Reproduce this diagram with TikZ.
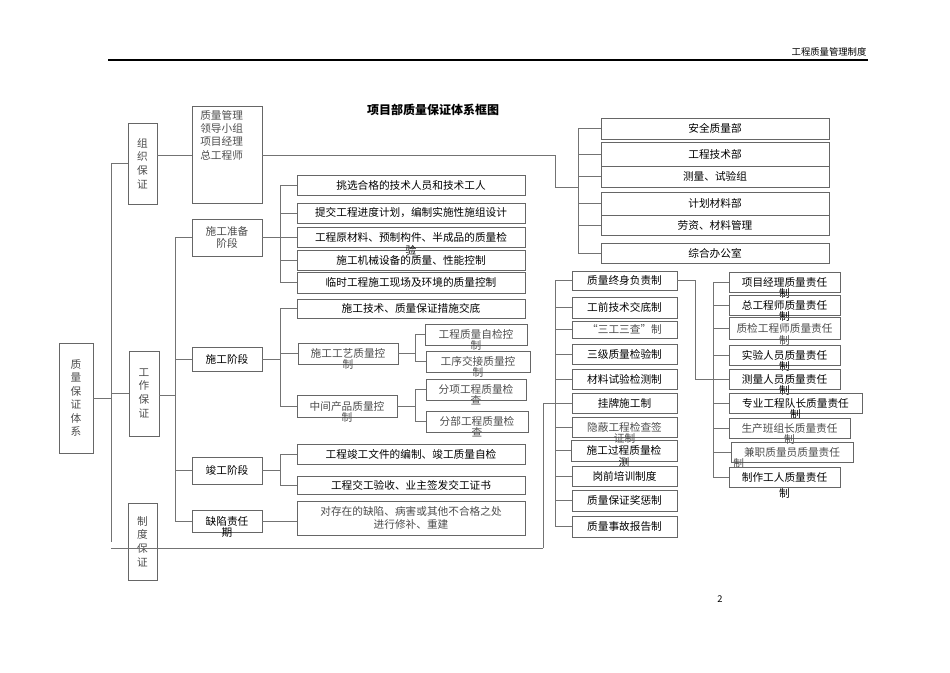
\documentclass[tikz,border=0pt]{standalone}
\usepackage{fontspec}
\setmainfont{Noto Sans CJK SC}
\begin{document}
\begin{tikzpicture}[x=0.75pt,y=-0.75pt,
  box/.style={draw=black!60,line width=0.5pt,inner sep=0pt,font=\fontsize{8}{9.5}\selectfont,align=center},
  lite/.style={text=black!70},
  ln/.style={draw=black!55,line width=0.5pt}]
\useasboundingbox (0,0) rectangle (950,672);
\newcommand\mybox[7][]{\node[box,#1,minimum width={0.75pt*(#5-#3)},minimum height={0.75pt*(#6-#4)}] (#2) at ({(#3+#5)/2},{(#4+#6)/2}) {#7};}
\newcommand\vt[1]{\shortstack{#1}}
% header
\draw[line width=0.8pt] (108,60) -- (868,60);
\node[anchor=south east,font=\fontsize{7}{8}\selectfont,inner sep=1pt] (hdr) at (868,58) {工程质量管理制度};
\node[font=\fontsize{7}{8}\selectfont] (pg) at (720,599) {2};
\node[font=\bfseries\fontsize{9}{10}\selectfont] (title) at (433,110) {项目部质量保证体系框图};
% level 0,1
\mybox[lite]{tixi}{59}{343}{93}{453}{\vt{质\\量\\保\\证\\体\\系}}
\mybox[lite]{zuzhi}{128}{123}{157}{204}{\vt{组\\织\\保\\证}}
\mybox[lite]{gongzuo}{129}{351}{159}{436}{\vt{工\\作\\保\\证}}
\mybox[lite]{zhidu}{128}{503}{157}{580}{\vt{制\\度\\保\\证}}
\coordinate (s1) at (111,0);
\draw[ln] (tixi.east) -- (tixi.east -| s1);
\draw[ln] (zuzhi.west -| s1) -- (zhidu.west -| s1 |- 0,548);
\draw[ln] (zuzhi.west) -- (zuzhi.west -| s1);
\draw[ln] (gongzuo.west) -- (gongzuo.west -| s1);
\coordinate (zdL) at (111,548);
\coordinate (zdR) at (543,548);
\draw[ln] (zdL) -- (zdR);
% 组织
\mybox[lite]{lingdao}{192}{106}{262}{203}{}
\node[anchor=north west,lite,font=\fontsize{8}{10}\selectfont,align=left,inner sep=0pt] (ldt) at (200,110) {质量管理\\领导小组\\项目经理\\总工程师};
\draw[ln] (zuzhi.east |- 0,155) -- (lingdao.west |- 0,155);
% stages
\mybox[lite]{zhunbei}{192}{219}{262}{256}{施工准备\\阶段}
\mybox{shigong}{192}{347}{262}{371}{施工阶段}
\mybox{jungong}{192}{457}{262}{484}{竣工阶段}
\mybox[label={[box,draw=none,anchor=center]south:期}]{quexian}{192}{510}{262}{532}{缺陷责任}
\coordinate (s2) at (175,0);
\draw[ln] (gongzuo.east |- 0,395) -- (s2 |- 0,395);
\draw[ln] (zhunbei.west -| s2) -- (quexian.west -| s2);
\foreach \n in {zhunbei,shigong,jungong,quexian} \draw[ln] (\n.west) -- (\n.west -| s2);
% 准备 children
\mybox{a1}{297}{175}{525}{195}{挑选合格的技术人员和技术工人}
\mybox{a2}{297}{203}{525}{223}{提交工程进度计划，编制实施性施组设计}
\mybox[label={[box,draw=none,anchor=center,yshift=-2pt]south:验}]{a3}{297}{227}{525}{247}{工程原材料、预制构件、半成品的质量检}
\mybox{a4}{297}{250}{525}{270}{施工机械设备的质量、性能控制}
\mybox{a5}{297}{272}{525}{293}{临时工程施工现场及环境的质量控制}
\coordinate (s3) at (280,0);
\draw[ln] (zhunbei.east) -- (zhunbei.east -| s3);
\draw[ln] (a1.west -| s3) -- (a5.west -| s3);
\foreach \n in {a1,a2,a3,a4,a5} \draw[ln] (\n.west) -- (\n.west -| s3);
% 施工 children
\mybox{b1}{297}{299}{525}{318}{施工技术、质量保证措施交底}
\mybox[lite,label={[box,draw=none,lite,anchor=center]south:制}]{b2}{298}{343}{398}{364}{施工工艺质量控}
\mybox[lite,label={[box,draw=none,lite,anchor=center]south:制}]{b3}{297}{395}{397}{417}{中间产品质量控}
\draw[ln] (shigong.east) -- (shigong.east -| s3);
\draw[ln] (b1.west -| s3) -- (b3.west -| s3);
\foreach \n in {b1,b2,b3} \draw[ln] (\n.west) -- (\n.west -| s3);
\mybox[lite,label={[box,draw=none,lite,anchor=center]south:制}]{c1}{425}{324}{527}{345}{工程质量自检控}
\mybox[lite,label={[box,draw=none,lite,anchor=center]south:制}]{c2}{426}{351}{530}{372}{工序交接质量控}
\mybox[lite,label={[box,draw=none,lite,anchor=center]south:查}]{c3}{426}{379}{526}{400}{分项工程质量检}
\mybox[lite,label={[box,draw=none,lite,anchor=center]south:查}]{c4}{426}{411}{528}{432}{分部工程质量检}
\coordinate (s4) at (415,0);
\draw[ln] (b2.east) -- (b2.east -| s4);
\draw[ln] (b3.east) -- (b3.east -| s4);
\draw[ln] (c1.west -| s4) -- (c2.west -| s4);
\draw[ln] (c3.west -| s4) -- (c4.west -| s4);
\foreach \n in {c1,c2,c3,c4} \draw[ln] (\n.west) -- (\n.west -| s4);
% 竣工
\mybox{d1}{297}{444}{525}{464}{工程竣工文件的编制、竣工质量自检}
\mybox{d2}{297}{476}{525}{494}{工程交工验收、业主签发交工证书}
\draw[ln] (jungong.east) -- (jungong.east -| s3);
\draw[ln] (d1.west -| s3) -- (d2.west -| s3);
\foreach \n in {d1,d2} \draw[ln] (\n.west) -- (\n.west -| s3);
\mybox[lite]{e1}{297}{501}{525}{535}{对存在的缺陷、病害或其他不合格之处\\进行修补、重建}
\draw[ln] (quexian.east) -- (quexian.east -| e1.west);
% departments
\mybox{f1}{601}{118}{829}{139}{安全质量部}
\mybox{f2}{601}{142}{829}{166}{工程技术部}
\mybox{f3}{601}{166}{829}{187}{测量、试验组}
\mybox{f4}{601}{192}{829}{215}{计划材料部}
\mybox{f5}{601}{215}{829}{235}{劳资、材料管理}
\mybox{f6}{601}{243}{829}{263}{综合办公室}
\coordinate (s5) at (578,0);
\coordinate (s5a) at (555,0);
\draw[ln] (lingdao.east |- 0,155) -- (s5a |- 0,155) -- (s5a |- 0,187) -- (s5 |- 0,187);
\draw[ln] (f1.west -| s5) -- (f6.west -| s5);
\foreach \n in {f1,f2,f3,f4,f5,f6} \draw[ln] (\n.west) -- (\n.west -| s5);
% rules
\mybox{g1}{572}{271}{677}{290}{质量终身负责制}
\mybox{g2}{572}{297}{677}{318}{工前技术交底制}
\mybox[lite]{g3}{572}{321}{677}{338}{“三工三查”制}
\mybox{g4}{572}{344}{677}{364}{三级质量检验制}
\mybox{g5}{572}{369}{677}{389}{材料试验检测制}
\mybox{g6}{572}{393}{677}{413}{挂牌施工制}
\mybox[lite,label={[box,draw=none,lite,anchor=center,yshift=-1pt]south:证制}]{g7}{572}{417}{677}{437}{隐蔽工程检查签}
\mybox[label={[box,draw=none,anchor=center,yshift=-1pt]south:测}]{g8}{571}{440}{677}{461}{施工过程质量检}
\mybox{g9}{572}{466}{677}{486}{岗前培训制度}
\mybox{g10}{572}{490}{677}{511}{质量保证奖惩制}
\mybox{g11}{572}{516}{677}{537}{质量事故报告制}
\coordinate (s6) at (555,0);
\draw[ln] (g1.west -| s6) -- (g11.west -| s6);
\foreach \n in {g1,g2,g3,g4,g5,g6,g7,g8,g9,g10,g11} \draw[ln] (\n.west) -- (\n.west -| s6);
\draw[ln] (zdR) -- (zdR |- g6.west) -- (g6.west -| s6);
% responsibilities
\mybox[label={[box,draw=none,anchor=center,yshift=-1pt]south:制}]{h1}{729}{272}{840}{292}{项目经理质量责任}
\mybox[label={[box,draw=none,anchor=center,yshift=-1pt]south:制}]{h2}{729}{295}{840}{315}{总工程师质量责任}
\mybox[lite,label={[box,draw=none,lite,anchor=center,yshift=-1pt]south:制}]{h3}{729}{317}{840}{339}{质检工程师质量责任}
\mybox[label={[box,draw=none,anchor=center,yshift=-1pt]south:制}]{h4}{729}{345}{840}{365}{实验人员质量责任}
\mybox[label={[box,draw=none,anchor=center,yshift=-1pt]south:制}]{h5}{729}{369}{840}{389}{测量人员质量责任}
\mybox[label={[box,draw=none,anchor=center,yshift=-1pt]south:制}]{h6}{729}{393}{862}{413}{专业工程队长质量责任}
\mybox[lite,label={[box,draw=none,lite,anchor=center,yshift=-1pt]south:制}]{h7}{729}{418}{850}{438}{生产班组长质量责任}
\mybox[lite,label={[box,draw=none,lite,anchor=center,xshift=-40pt,yshift=-1pt]south:制}]{h8}{731}{442}{853}{462}{兼职质量员质量责任}
\mybox[label={[box,draw=none,anchor=north,yshift=-1pt]south:制}]{h9}{729}{467}{840}{487}{制作工人质量责任}
\coordinate (s7) at (713,0);
\coordinate (s8) at (695,0);
\draw[ln] (h1.west -| s7) -- (h9.west -| s7);
\foreach \n in {h1,h2,h3,h4,h5,h6,h7,h8,h9} \draw[ln] (\n.west) -- (\n.west -| s7);
\draw[ln] (g1.east) -- (g1.east -| s8) -- (s8 |- h5.west) -- (h5.west);
\end{tikzpicture}
\end{document}
